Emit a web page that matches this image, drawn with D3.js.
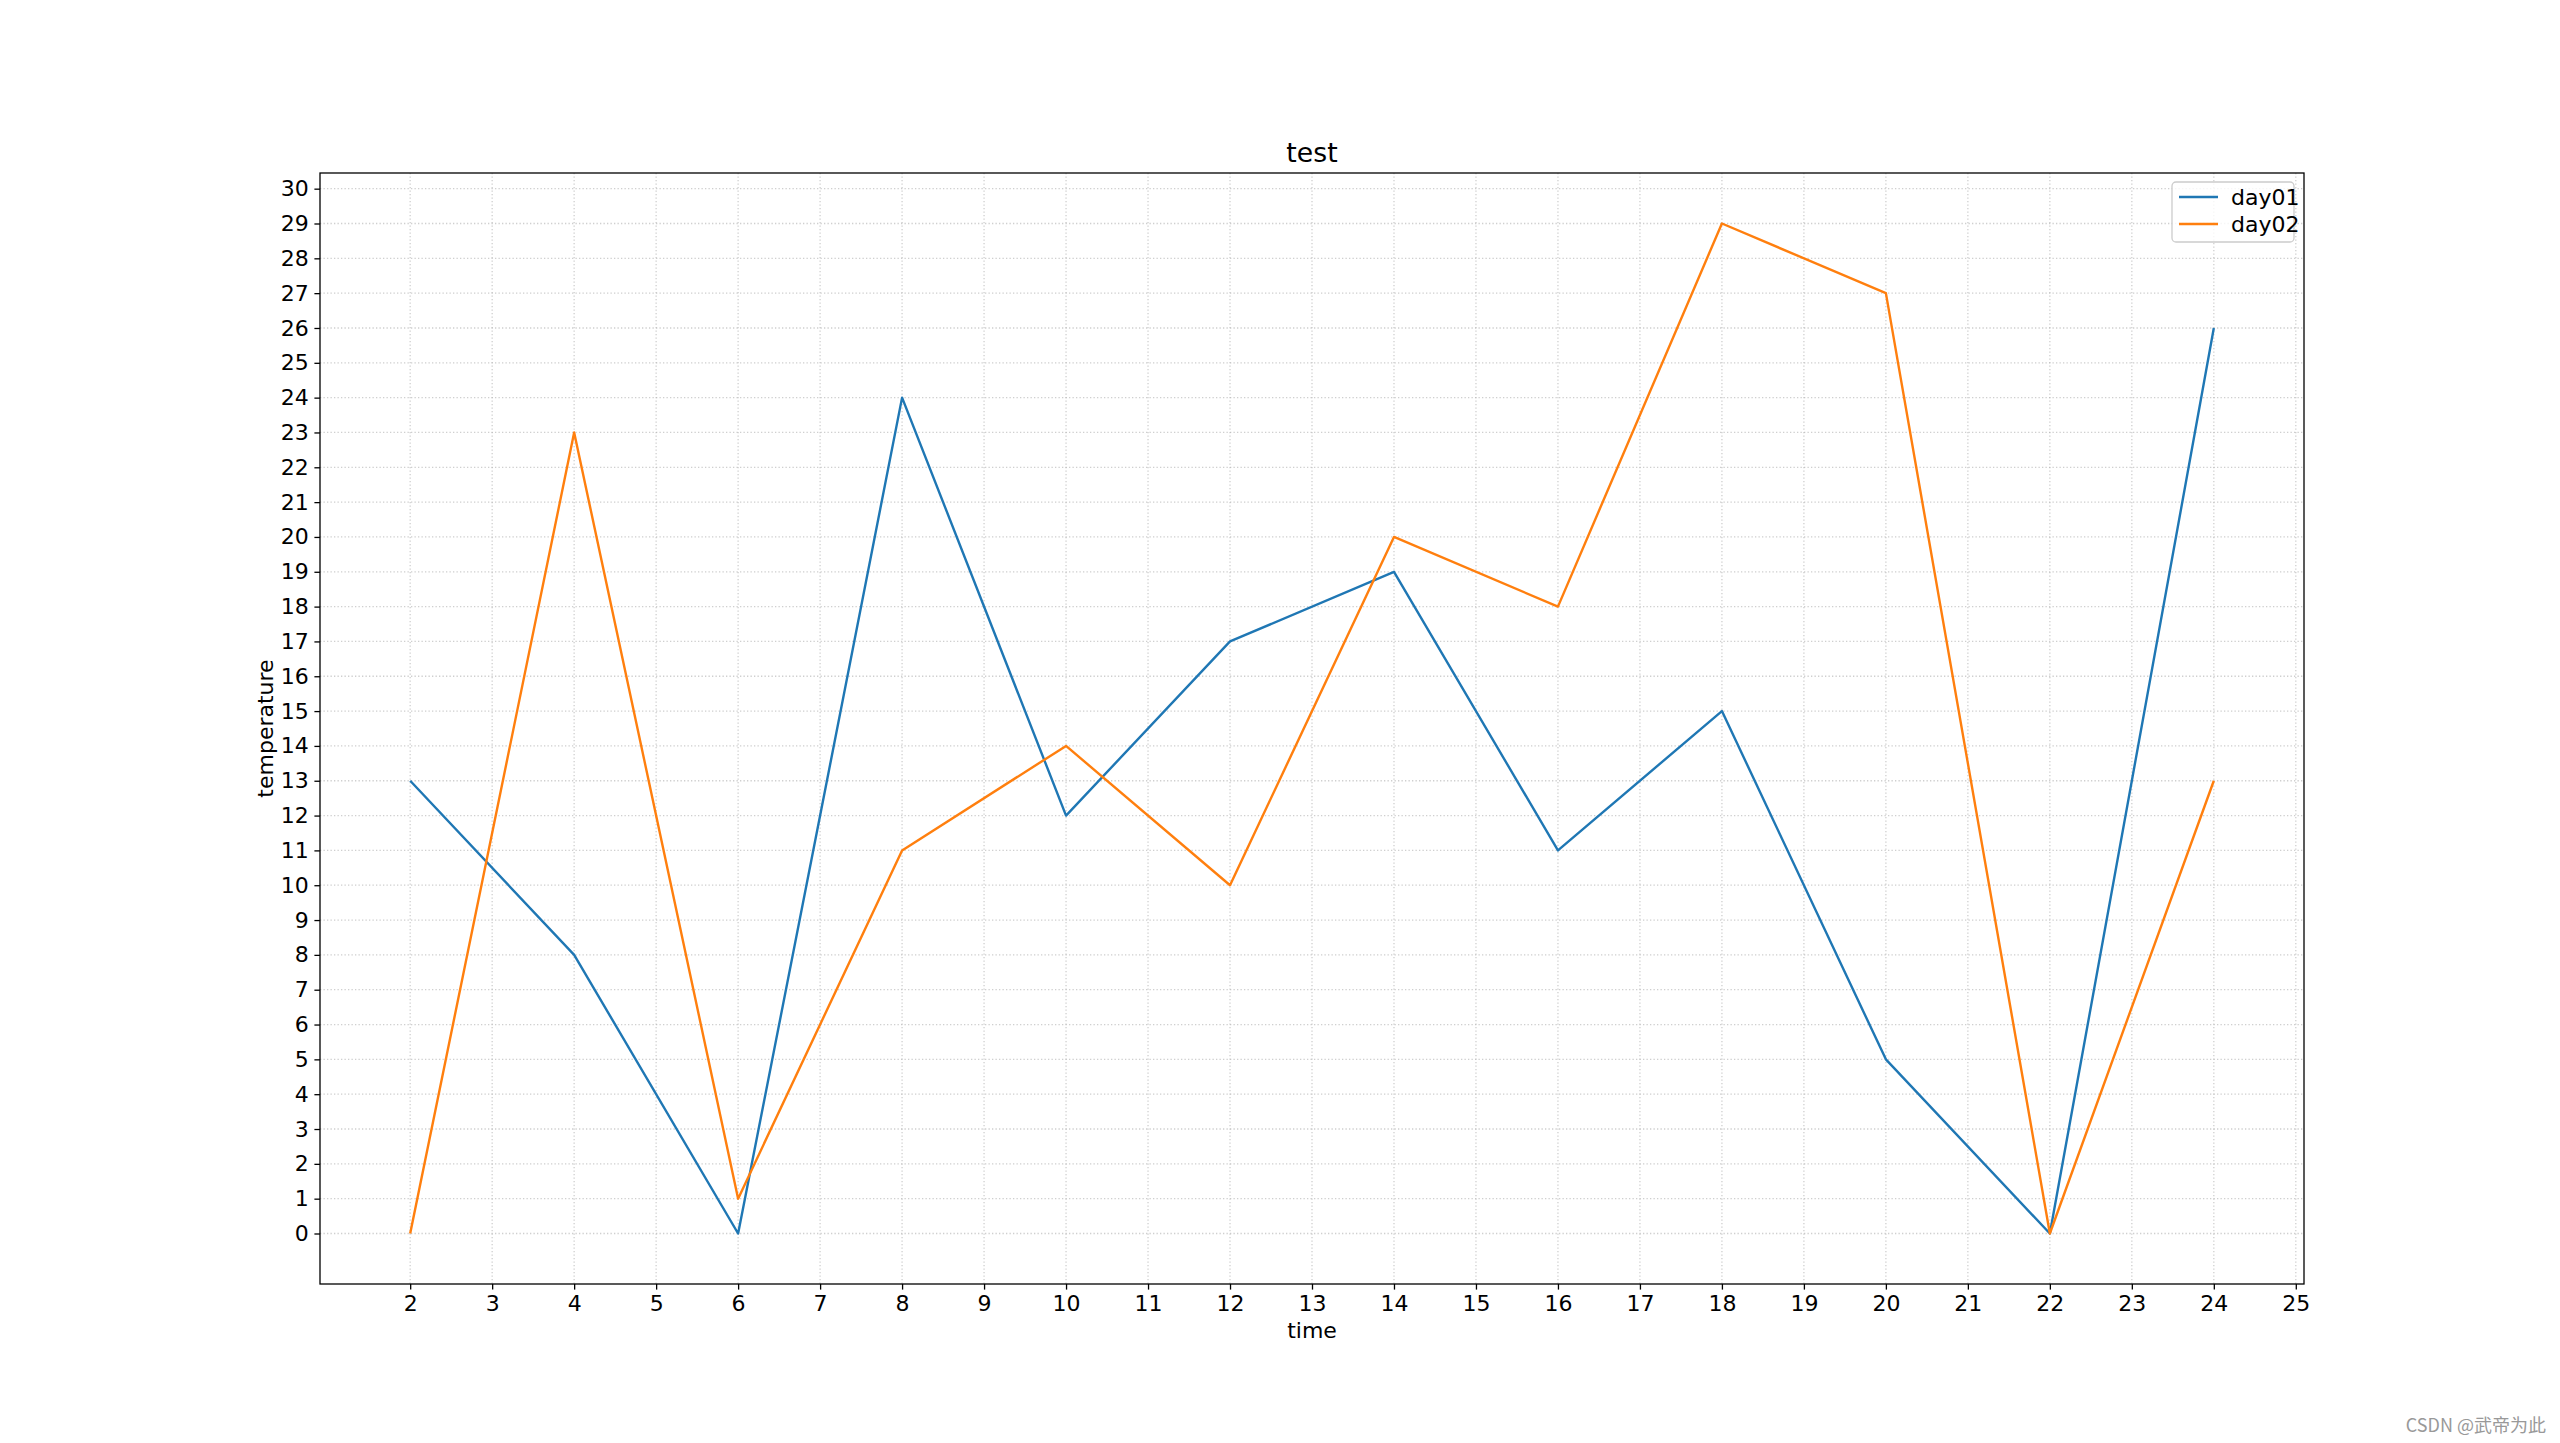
<!DOCTYPE html><html><head><meta charset="utf-8"><script src="https://cdn.jsdelivr.net/npm/d3@7"></script>
<style>body{margin:0;background:#fff}svg{font-family:"DejaVu Sans",sans-serif}</style></head><body><svg id="c" width="2560" height="1443"></svg>
<script>
const times=[2,4,6,8,10,12,14,16,18,20,22,24];
const day01=[13,8,0,24,12,17,19,11,15,5,0,26];
const day02=[0,23,1,11,14,10,20,18,29,27,0,13];
const xTicks=d3.range(2,26);
const yTicks=d3.range(0,31);
const L=320,R=2304,T=173,B=1284;
const svg=d3.select("#c");
const x=d3.scaleLinear().domain([0.9,25.1]).range([L,R]);
const y=d3.scaleLinear().domain([-1.45,30.45]).range([B,T]);
const g=svg.append("g");
g.selectAll(".gx").data(xTicks).join("line").attr("x1",d=>x(d)).attr("x2",d=>x(d)).attr("y1",T).attr("y2",B).attr("stroke","#b0b0b0").attr("stroke-width",1.3).attr("stroke-dasharray","1.3,2.2").attr("opacity",0.6);
g.selectAll(".gy").data(yTicks).join("line").attr("y1",d=>y(d)).attr("y2",d=>y(d)).attr("x1",L).attr("x2",R).attr("stroke","#b0b0b0").attr("stroke-width",1.3).attr("stroke-dasharray","1.3,2.2").attr("opacity",0.6);
const xa=svg.append("g").attr("transform",`translate(0,${B})`).call(d3.axisBottom(x).tickValues(xTicks).tickFormat(d3.format("d")).tickSize(5.6).tickPadding(5.6));
const ya=svg.append("g").attr("transform",`translate(${L},0)`).call(d3.axisLeft(y).tickValues(yTicks).tickFormat(d3.format("d")).tickSize(5.6).tickPadding(5.6));
[xa,ya].forEach(a=>{a.select(".domain").remove();a.selectAll("text").attr("font-size",22).attr("font-family","DejaVu Sans").attr("fill","#000");a.selectAll("line").attr("stroke","#000").attr("stroke-width",1.3);});
svg.append("rect").attr("x",L).attr("y",T).attr("width",R-L).attr("height",B-T).attr("fill","none").attr("stroke","#000").attr("stroke-width",1.3);
const line=d3.line().x((d,i)=>x(times[i])).y(d=>y(d));
[[day01,"#1f77b4"],[day02,"#ff7f0e"]].forEach(([s,c])=>svg.append("path").attr("d",line(s)).attr("fill","none").attr("stroke",c).attr("stroke-width",2.4).attr("stroke-linejoin","round"));
svg.append("text").attr("x",(L+R)/2).attr("y",T-11).attr("text-anchor","middle").attr("font-size",26.7).text("test");
svg.append("text").attr("x",(L+R)/2).attr("y",1338).attr("text-anchor","middle").attr("font-size",22).text("time");
svg.append("text").attr("transform",`translate(273,${(T+B)/2}) rotate(-90)`).attr("text-anchor","middle").attr("font-size",22).text("temperature");
const lg=svg.append("g");
lg.append("rect").attr("x",2172).attr("y",182).attr("width",122).attr("height",60).attr("rx",4).attr("fill","#fff").attr("fill-opacity",0.8).attr("stroke","#ccc").attr("stroke-width",1.3);
[["day01","#1f77b4",197],["day02","#ff7f0e",224]].forEach(([n,c,yy])=>{lg.append("line").attr("x1",2179).attr("x2",2218).attr("y1",yy).attr("y2",yy).attr("stroke",c).attr("stroke-width",2.4);lg.append("text").attr("x",2231).attr("y",yy+8).attr("font-size",22).text(n);});
svg.append("text").attr("x",2546).attr("y",1432).attr("text-anchor","end").attr("font-size",18).attr("fill","#999").attr("font-family","Noto Sans CJK SC").text("CSDN @武帝为此");
</script></body></html>
